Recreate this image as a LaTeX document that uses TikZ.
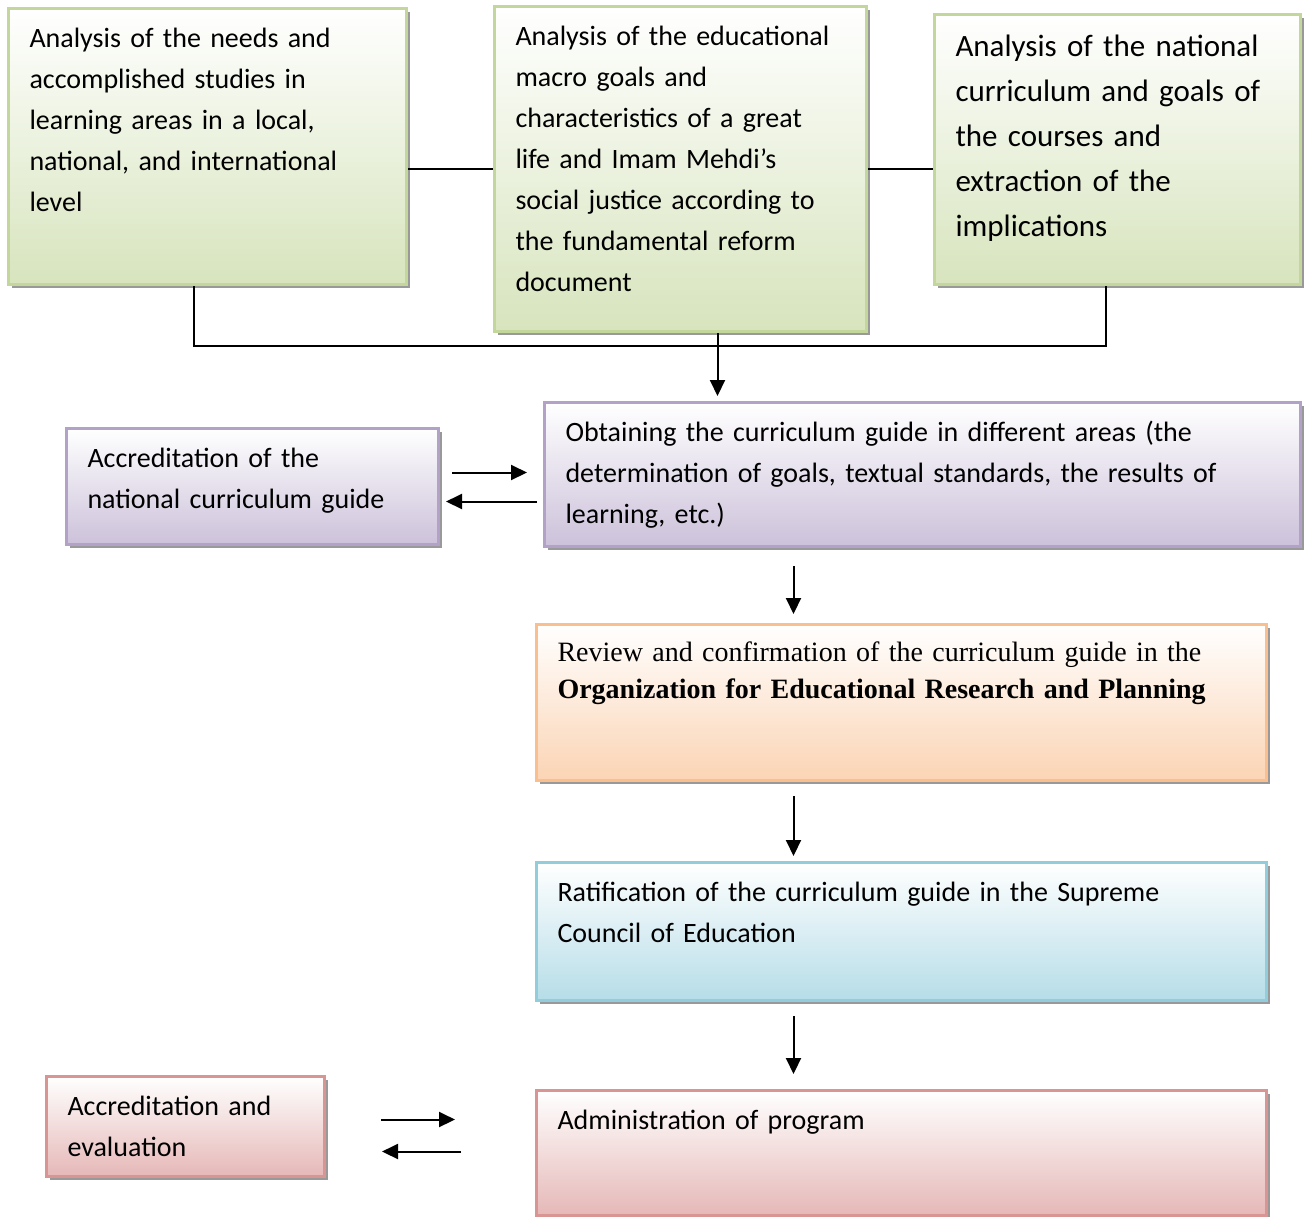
\documentclass[tikz,border=0pt]{standalone}
\usepackage{fontspec}
\setmainfont{Carlito}
\newfontfamily\reviewfont{Liberation Serif}
\usetikzlibrary{arrows.meta,shadows}
\definecolor{greenline}{HTML}{C3D69B}
\definecolor{greenfill}{HTML}{D7E4BD}
\definecolor{purpleline}{HTML}{B3A2C7}
\definecolor{purplefill}{HTML}{CCC1DA}
\definecolor{orangeline}{HTML}{FABF8F}
\definecolor{orangefill}{HTML}{FBD4B4}
\definecolor{blueline}{HTML}{92CDDC}
\definecolor{bluefill}{HTML}{B6DDE8}
\definecolor{pinkline}{HTML}{D99594}
\definecolor{pinkfill}{HTML}{E5B8B7}
\tikzset{
    stage/.style={rectangle, draw=#1line, line width=1.5pt, top color=white, bottom color=#1fill,
        anchor=north west, align=left, inner xsep=10.5pt, inner ysep=5pt, text height=14.5pt,
        font=\fontsize{14}{20.5}\selectfont,
        drop shadow={shadow xshift=1.5pt, shadow yshift=-1.5pt, fill=black!40, opacity=1}}
}
\tikzset{link/.style={line width=1pt}}
\tikzset{flow/.style={link, -{Triangle[length=8pt, width=7.5pt]}}}

\begin{document}
\begin{tikzpicture}[x=0.5pt, y=-0.5pt]
        \useasboundingbox (0,0) rectangle (1305,1216);
        \node[stage=green, text width=178pt, text depth=113.5pt] (needs) at (7,7) {Analysis of the needs and\\accomplished studies in\\learning areas in a local,\\national, and international\\level};
        \node[stage=green, text width=165pt, text depth=138pt] (goals) at (493,5) {Analysis of the educational\\macro goals and\\characteristics of a great\\life and Imam Mehdi’s\\social justice according to\\the fundamental reform\\document};
        \node[stage=green, text width=162pt, text height=16pt, text depth=109pt, font=\fontsize{15.5}{22.5}\selectfont] (courses) at (933,13) {Analysis of the national\\curriculum and goals of\\the courses and\\extraction of the\\implications};
        \node[stage=purple, text width=357pt, text depth=47.5pt] (guide) at (543,401) {Obtaining the curriculum guide in different areas (the\\determination of goals, textual standards, the results of\\learning, etc.)};
        \node[stage=purple, text width=165pt, text depth=33.5pt] (accnat) at (65,427) {Accreditation of the\\national curriculum guide};
        \node[stage=orange, text width=344pt, text height=13.5pt, text depth=54.5pt, font=\reviewfont\fontsize{14}{18.5}\selectfont] (review) at (535,623) {Review and confirmation of the curriculum guide in the\\\textbf{Organization for Educational Research and Planning}};
        \node[stage=blue, text width=344pt, text depth=44.5pt] (ratify) at (535,861) {Ratification of the curriculum guide in the Supreme\\Council of Education};
        \node[stage=pink, text width=344pt, text depth=38pt] (admin) at (535,1089) {Administration of program};
        \node[stage=pink, text width=118pt, text depth=25.5pt] (acceval) at (45,1075) {Accreditation and\\evaluation};
        \draw[link] (goals.west) -- (goals.west -| needs.east);
        \draw[link] (goals.east) -- (goals.east -| courses.west);
        \draw[link] ([xshift=-7pt]needs.south) -- ++(0,60) -| ([xshift=-6pt]courses.south);
        \draw[flow, shorten >=2.5pt] ([xshift=18.5pt]goals.south) -- ([xshift=18.5pt]goals.south |- guide.north);
        \draw[flow, shorten <=6pt, shorten >=8pt] ([yshift=7pt]accnat.east) -- ([yshift=7pt]accnat.east -| guide.west);
        \draw[flow, shorten <=3pt, shorten >=3pt] ([yshift=-7.5pt]accnat.east -| guide.west) -- ([yshift=-7.5pt]accnat.east);
        \draw[flow, shorten <=9pt, shorten >=4.5pt] ([xshift=-54pt]review.north |- guide.south) -- ([xshift=-54pt]review.north);
        \draw[flow, shorten <=7pt, shorten >=2.5pt] ([xshift=-54pt]review.south) -- ([xshift=-54pt]review.south |- ratify.north);
        \draw[flow, shorten <=7pt, shorten >=7.5pt] ([xshift=-54pt]ratify.south) -- ([xshift=-54pt]ratify.south |- admin.north);
        \draw[flow, shorten <=27.5pt, shorten >=40pt] ([yshift=3.5pt]acceval.east) -- ([yshift=3.5pt]acceval.east -| admin.west);
        \draw[flow, shorten <=37pt, shorten >=28pt] ([yshift=-12.5pt]acceval.east -| admin.west) -- ([yshift=-12.5pt]acceval.east);
\end{tikzpicture}
\end{document}
